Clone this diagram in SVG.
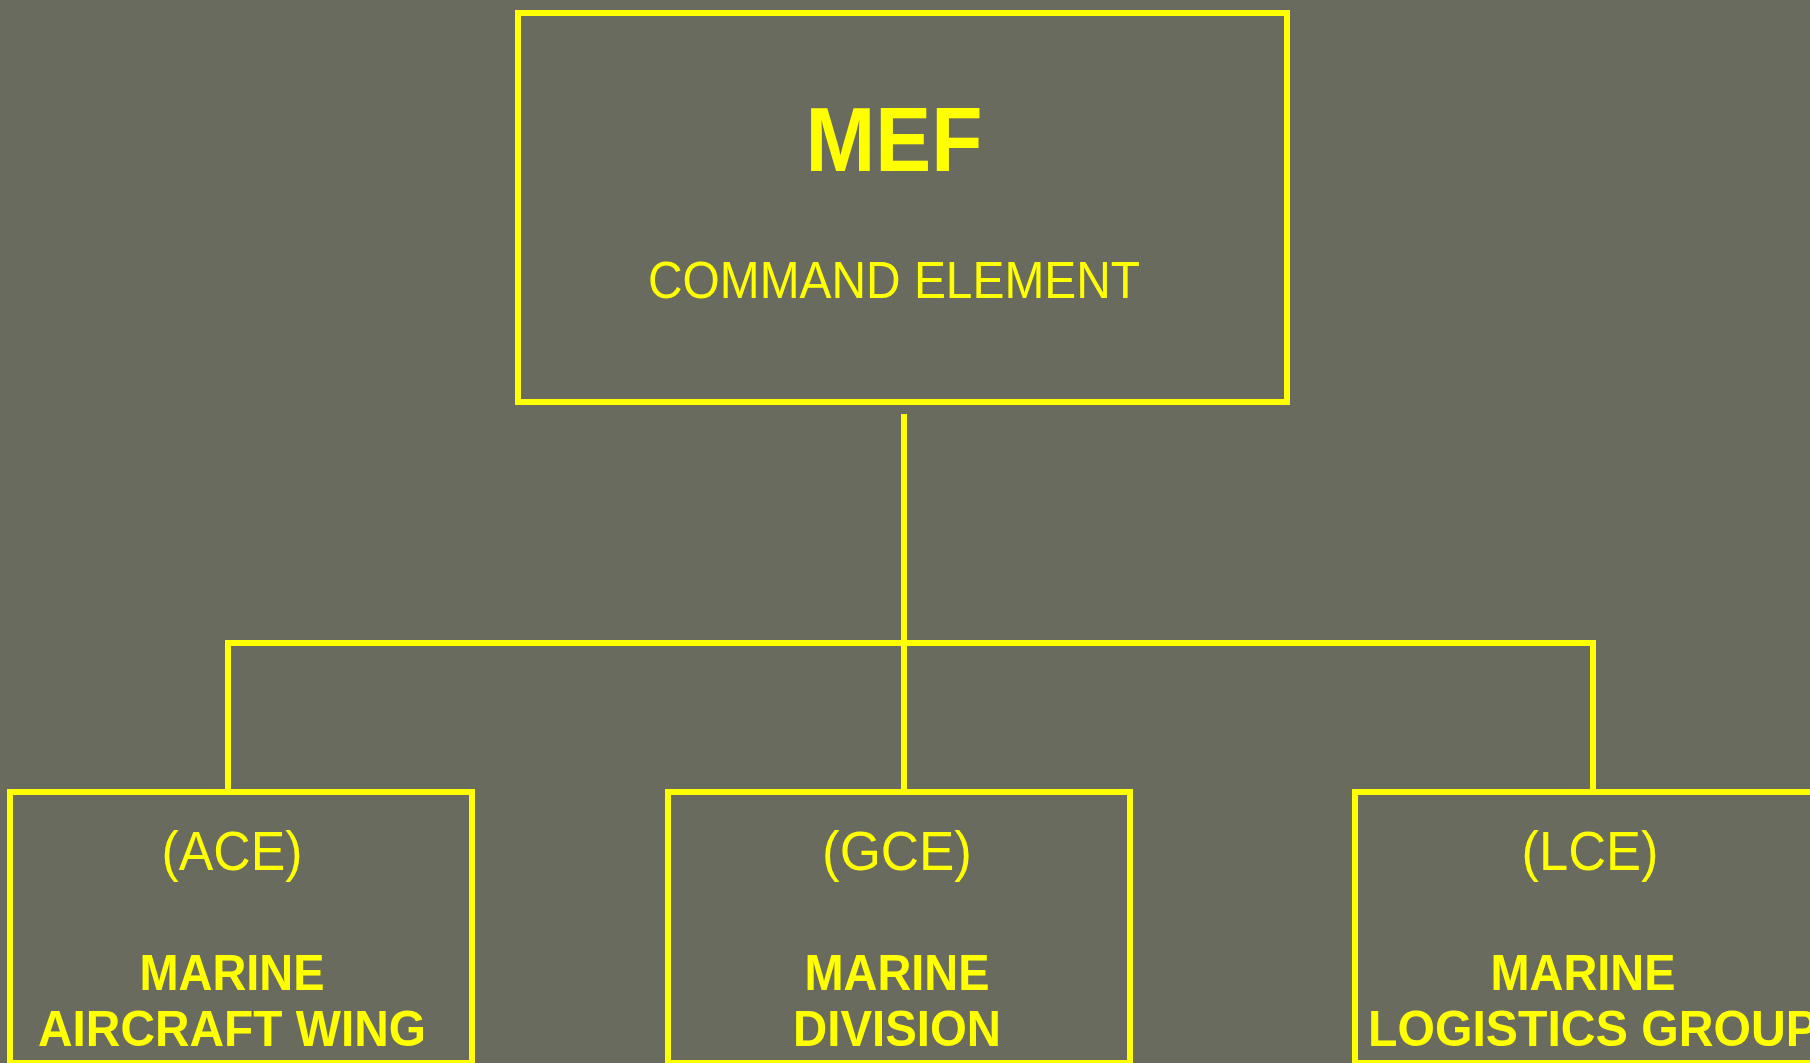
<svg xmlns="http://www.w3.org/2000/svg" width="1810" height="1063" viewBox="0 0 1810 1063">
<style>
.box{fill:none;stroke:#FFFF00;stroke-width:6}
.ln{fill:none;stroke:#FFFF00;stroke-width:6;stroke-linejoin:miter;stroke-linecap:butt}
.t{fill:#FFFF00;font-family:"Liberation Sans",Arial,sans-serif;text-anchor:middle}
.b{font-weight:bold}
</style>
<rect x="0" y="0" width="1810" height="1063" fill="#696B5E"/>
<g id="connectors">
<line class="ln" x1="904" y1="414" x2="904" y2="794"/>
<polyline class="ln" points="228,794 228,643 1593,643 1593,794"/>
</g>
<g id="mef">
<rect class="box" x="518" y="13" width="769" height="389"/>
<text class="t b" x="894" y="171" font-size="90" textLength="177" lengthAdjust="spacingAndGlyphs">MEF</text>
<text class="t" x="894" y="298" font-size="51" textLength="492" lengthAdjust="spacingAndGlyphs">COMMAND ELEMENT</text>
</g>
<g id="ace">
<rect class="box" x="10" y="792" width="462" height="271"/>
<text class="t" x="232" y="870" font-size="55" textLength="141" lengthAdjust="spacingAndGlyphs">(ACE)</text>
<text class="t b" x="232" y="990" font-size="50" textLength="185" lengthAdjust="spacingAndGlyphs">MARINE</text>
<text class="t b" x="232" y="1046" font-size="50" textLength="388" lengthAdjust="spacingAndGlyphs">AIRCRAFT WING</text>
</g>
<g id="gce">
<rect class="box" x="668" y="792" width="462" height="271"/>
<text class="t" x="897" y="870" font-size="55" textLength="150" lengthAdjust="spacingAndGlyphs">(GCE)</text>
<text class="t b" x="897" y="990" font-size="50" textLength="185" lengthAdjust="spacingAndGlyphs">MARINE</text>
<text class="t b" x="897" y="1046" font-size="50" textLength="208" lengthAdjust="spacingAndGlyphs">DIVISION</text>
</g>
<g id="lce">
<rect class="box" x="1355" y="792" width="480" height="271"/>
<text class="t" x="1590" y="870" font-size="55" textLength="137" lengthAdjust="spacingAndGlyphs">(LCE)</text>
<text class="t b" x="1583" y="990" font-size="50" textLength="185" lengthAdjust="spacingAndGlyphs">MARINE</text>
<text class="t b" x="1368" y="1046" font-size="50" style="text-anchor:start" textLength="450" lengthAdjust="spacingAndGlyphs">LOGISTICS GROUP</text>
</g>
</svg>
